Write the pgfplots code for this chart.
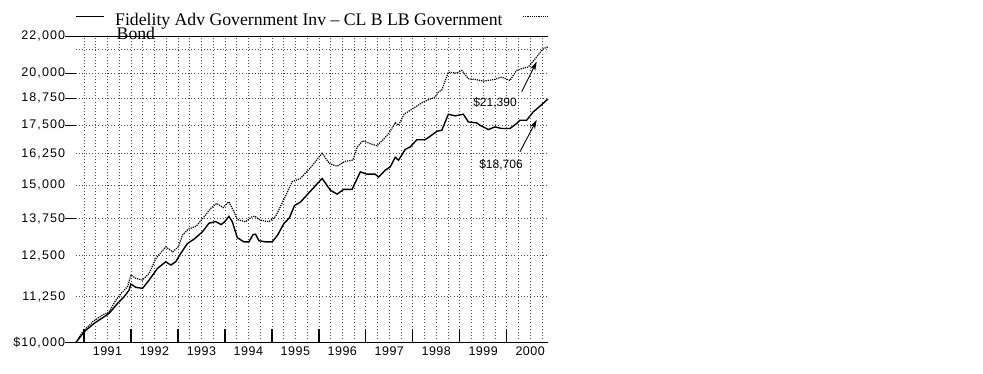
\documentclass[border=0pt]{standalone}
\usepackage{fontspec}
\setmainfont{Liberation Serif}
\newfontfamily\ticksf[LetterSpace=9]{Liberation Sans}
\newfontfamily\yearsf[LetterSpace=4]{Liberation Sans}
\newfontfamily\annsf{Liberation Sans}
\usepackage{pgfplots}
\pgfplotsset{compat=1.18}
\usetikzlibrary{arrows.meta}
\begin{document}
\begin{tikzpicture}
\fill[white, use as bounding box] (0pt,0pt) rectangle (983pt,373pt);
\begin{axis}[
  at={(76pt,30.5pt)}, anchor=south west,
  scale only axis, width=472pt, height=306.5pt,
  xmin=1990.83, xmax=2000.88,
  ymode=log, ymin=10000, ymax=22000,
  clip=false,
  separate axis lines,
  x axis line style={black, line width=0.9pt},
  y axis line style={draw=none},
  xtick={1991,1992,1993,1994,1995,1996,1997,1998,1999,2000},
  xticklabels={1991,1992,1993,1994,1995,1996,1997,1998,1999,2000},
  xticklabel style={xshift=23.5pt, yshift=-1pt, font=\yearsf\fontsize{12.5}{13}\selectfont},
  xtick pos=bottom, xtick align=inside,
  xtick style={black, line width=1.4pt, /pgfplots/major tick length=14pt},
  minor xtick={1991.25,1991.5,...,2000.75},
  minor tick length=0pt,
  ytick={10000,13750,17500,18750,20000,22000},
  yticklabels={{\$10,000},{13,750},{17,500},{18,750},{20,000},{22,000}},
  extra y ticks={11250,12500,15000,16250,21250},
  extra y tick labels={{11,250},{12,500},{15,000},{16,250},{}},
  extra y tick style={major tick style={draw=none}, grid=major},
  yminorticks=false,
  ytick pos=left, ytick align=outside,
  ytick style={black, line width=0.8pt, /pgfplots/major tick length=11pt},
  yticklabel style={xshift=-3pt, font=\ticksf\fontsize{12.5}{13}\selectfont},
  xmajorgrids, xminorgrids, ymajorgrids,
  major grid style={black!70, line width=0.6pt, dash pattern=on 0.8pt off 2.4pt},
  minor grid style={black!70, line width=0.6pt, dash pattern=on 0.8pt off 2.4pt},
]
% Fidelity Adv Government Inv - CL B
\addplot[black, line width=1.4pt] coordinates {
(1990.83,10000) (1991.006,10281) (1991.219,10506) (1991.431,10685) (1991.537,10779)
(1991.716,11059) (1991.856,11248) (1991.962,11443) (1991.998,11621) (1992.104,11523)
(1992.247,11494) (1992.387,11741) (1992.565,12099) (1992.742,12307) (1992.848,12203)
(1992.954,12307) (1993.060,12575) (1993.203,12900) (1993.343,13044) (1993.521,13290)
(1993.661,13590) (1993.804,13647) (1993.920,13542) (1993.995,13641) (1994.086,13831)
(1994.158,13641) (1994.265,13094) (1994.405,12953) (1994.511,12953) (1994.600,13195)
(1994.653,13212) (1994.723,12993) (1994.866,12953) (1995.008,12953) (1995.121,13178)
(1995.255,13573) (1995.376,13788) (1995.482,14220) (1995.609,14349) (1995.822,14759)
(1996.070,15249) (1996.246,14797) (1996.389,14646) (1996.529,14824) (1996.707,14824)
(1996.884,15509) (1997.026,15418) (1997.202,15418) (1997.272,15300) (1997.415,15577)
(1997.521,15710) (1997.627,16105) (1997.697,15982) (1997.839,16428) (1997.946,16538)
(1998.088,16847) (1998.264,16847) (1998.371,16999) (1998.519,17219) (1998.619,17263)
(1998.759,17988) (1998.902,17910) (1999.078,17988) (1999.184,17636) (1999.363,17591)
(1999.433,17487) (1999.609,17294) (1999.751,17411) (1999.893,17340) (2000.070,17340)
(2000.212,17564) (2000.282,17713) (2000.424,17713) (2000.565,18095) (2000.707,18362)
(2000.877,18706)
};
% LB Government Bond
\addplot[black, line width=1.2pt, dash pattern=on 1.2pt off 1pt] coordinates {
(1990.83,10000) (1990.972,10281) (1991.185,10549) (1991.397,10732) (1991.537,10823)
(1991.680,11153) (1991.822,11393) (1991.928,11541) (1991.998,11893) (1992.104,11793)
(1992.247,11741) (1992.387,11946) (1992.529,12408) (1992.742,12789) (1992.890,12626)
(1993.007,12789) (1993.096,13178) (1993.220,13383) (1993.390,13487) (1993.570,13842)
(1993.698,14118) (1993.825,14301) (1993.963,14147) (1994.086,14360) (1994.193,13996)
(1994.265,13717) (1994.441,13641) (1994.568,13806) (1994.632,13842) (1994.749,13700)
(1994.936,13641) (1995.078,13824) (1995.255,14441) (1995.433,15123) (1995.609,15249)
(1995.822,15676) (1996.070,16271) (1996.225,15845) (1996.389,15736) (1996.565,15939)
(1996.724,15982) (1996.820,16538) (1996.937,16803) (1997.096,16675) (1997.238,16589)
(1997.378,16868) (1997.500,17153) (1997.627,17600) (1997.697,17487) (1997.818,17988)
(1997.999,18244) (1998.190,18518) (1998.307,18647) (1998.477,18801) (1998.547,19044)
(1998.619,19152) (1998.759,20048) (1998.938,19997) (1999.044,20136) (1999.184,19711)
(1999.363,19661) (1999.503,19590) (1999.715,19661) (1999.893,19792) (2000.070,19626)
(2000.212,20136) (2000.318,20224) (2000.459,20307) (2000.637,20839) (2000.777,21293)
(2000.877,21390)
};
\end{axis}
% legend
\draw[black, line width=1.6pt] (76pt,356.4pt) -- (104pt,356.4pt);
\draw[black, line width=1.2pt, dash pattern=on 1.2pt off 1pt] (523pt,356.4pt) -- (548pt,356.4pt);
\node[anchor=base west, inner sep=0pt, font=\fontsize{17.7}{20}\selectfont] at (115pt,347.6pt)
  {Fidelity Adv Government Inv -- CL B LB Government};
\node[anchor=base west, inner sep=0pt, font=\fontsize{17.7}{20}\selectfont] at (116.5pt,333.4pt)
  {Bond};
% annotations
\node[font=\annsf\fontsize{12}{13}\selectfont, inner sep=0pt] at (495pt,270pt) {\$21,390};
\node[font=\annsf\fontsize{12}{13}\selectfont, inner sep=0pt] at (501pt,208pt) {\$18,706};
\draw[black, line width=0.9pt, -{Stealth[length=9pt,width=5.5pt]}] (521.7pt,281.3pt) -- (536.7pt,311.3pt);
\draw[black, line width=0.9pt, -{Stealth[length=9pt,width=5.5pt]}] (520pt,221.3pt) -- (536.7pt,253pt);
\end{tikzpicture}
\end{document}
